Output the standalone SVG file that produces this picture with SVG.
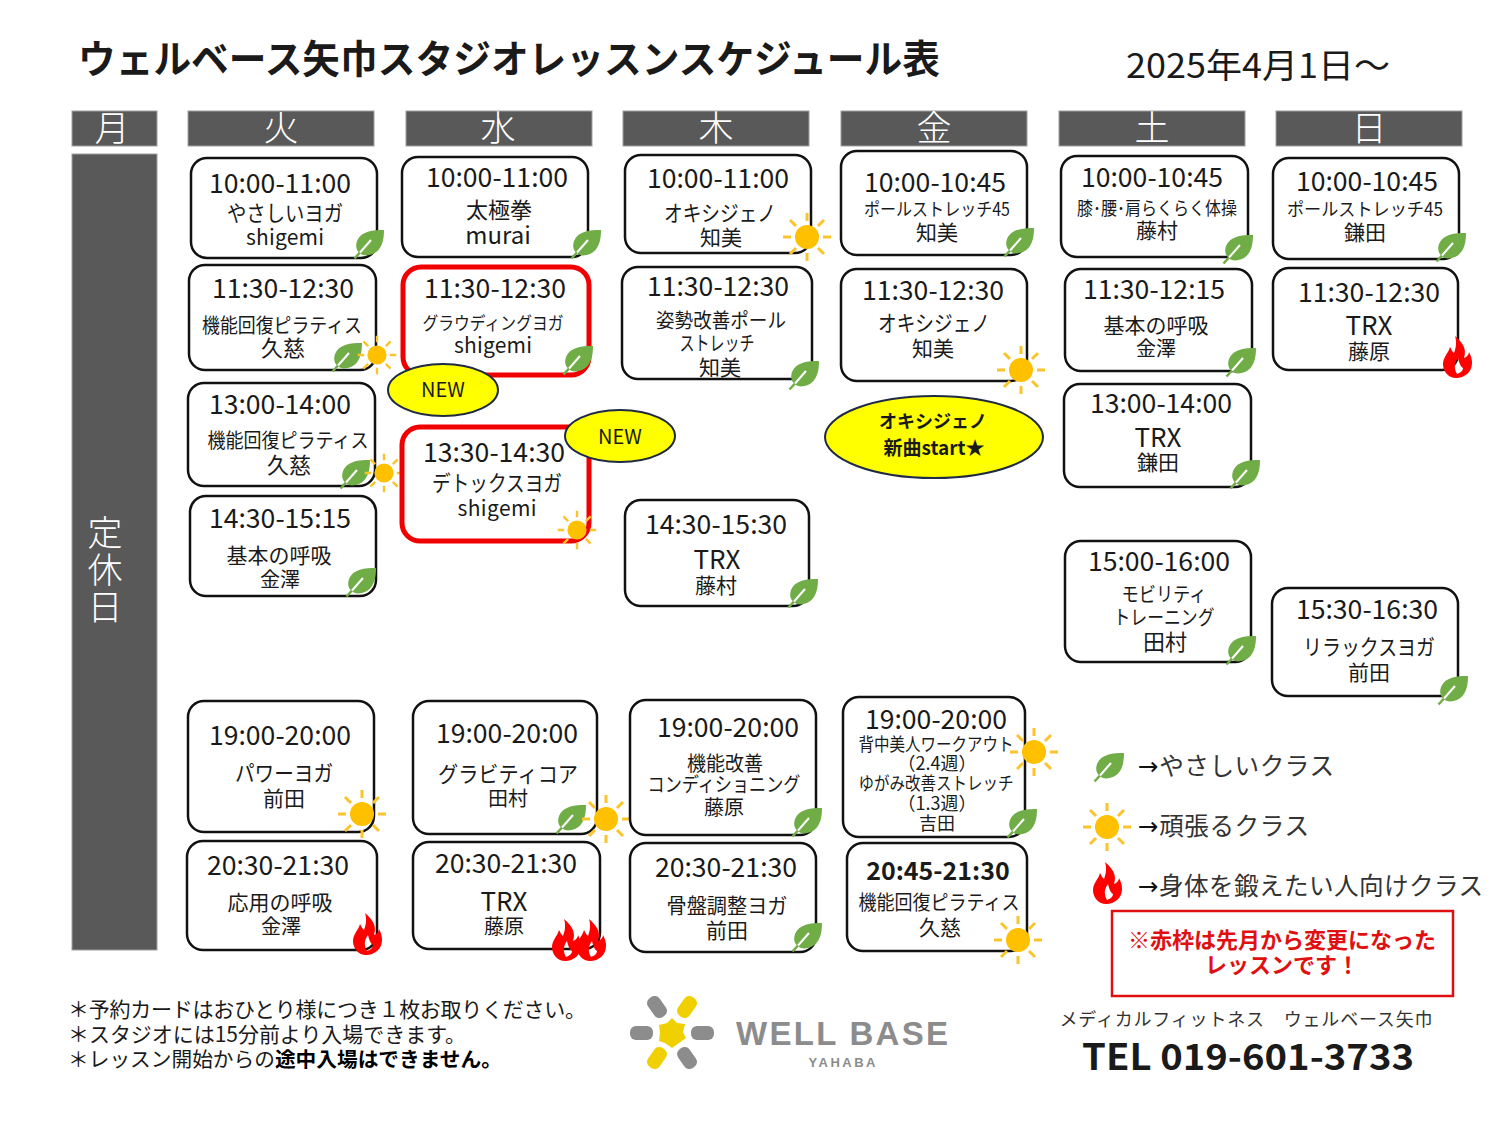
<svg xmlns="http://www.w3.org/2000/svg" width="1500" height="1125" viewBox="0 0 1500 1125">
<style>
text{font-family:"Noto Sans CJK JP","Noto Sans",sans-serif;fill:#1a1a1a;text-anchor:middle}
.card{fill:#fff;stroke:#111;stroke-width:2.5}
.red{fill:#fff;stroke:#f00000;stroke-width:5}
.hd{fill:#595959;stroke:#a0a0a0;stroke-width:1}
.hdt{fill:#fff;font-size:35px;font-weight:300}
.t{font-size:26.6px}
.a{font-size:22px}.b{font-size:21px}.c{font-size:20px}.d{font-size:18px}.x{font-size:24px}.trx{font-size:26px}
.bub{fill:#ffff00;stroke:#1f2a44;stroke-width:2}
.lg{font-size:24.6px;text-anchor:start;fill:#333}
.ar{font-family:"DejaVu Sans",sans-serif;fill:#111}
.nt{font-size:21px;text-anchor:start}
.rt{font-size:22px;font-weight:700;fill:#e01010}
</style>
<defs>
<g id="leaf"><path d="M15,-14C4,-14-8,-13-12,-3C-14,3-12,7-9,9C-7,12-1,12 4,10C13,6 15,-4 15,-14Z" fill="#70ad47"/><path d="M-14.5,14.5L-9,8.500" stroke="#70ad47" stroke-width="2.500" fill="none"/><path d="M-9,8.500L2,-4" stroke="#fff" stroke-width="2" fill="none"/></g>
<g id="sun"><circle r="12" fill="#ffc000"/><path d="M16,0H24M-16,0H-24M0,16V24M0,-16V-24M11,11L17,17M-11,11L-17,17M11,-11L17,-17M-11,-11L-17,-17" stroke="#fcc42c" stroke-width="3" fill="none"/></g>
<g id="sunS"><use href="#sun" transform="scale(.8)"/></g>
<g id="flame"><path fill-rule="evenodd" d="M-2,-21C6,-14 10,-8 7,1C10,0 12,-3 12,-5C16,2 16,10 12,15C8,20 2,21-1,21C-8,21-14,15-14,7C-14,0-9,-3-7,-10C-5,-6-4,-5-3,-4C-1,-9 0,-15-2,-21ZM1,1C-3,6-3,12 0,17C3,16 6,14 6,11C4,10 2,6 1,1Z" fill="#ff0000"/></g>
</defs>
<rect width="1500" height="1125" fill="#fff"/>
<g id="title"><text x="509" y="73" font-size="39" font-weight="700" textLength="862" lengthAdjust="spacingAndGlyphs" fill="#111">ウェルベース矢巾スタジオレッスンスケジュール表</text>
<text x="1258" y="78" font-size="34" textLength="264" lengthAdjust="spacingAndGlyphs">2025年4月1日～</text></g>
<g id="headers">
<rect class="hd" x="72" y="111" width="85" height="35"/><text class="hdt" x="112" y="141">月</text>
<rect class="hd" x="188" y="111" width="186" height="35"/><text class="hdt" x="281" y="141">火</text>
<rect class="hd" x="406" y="111" width="186" height="35"/><text class="hdt" x="498" y="141">水</text>
<rect class="hd" x="623" y="111" width="186" height="35"/><text class="hdt" x="716" y="141">木</text>
<rect class="hd" x="841" y="111" width="186" height="35"/><text class="hdt" x="934" y="141">金</text>
<rect class="hd" x="1059" y="111" width="186" height="35"/><text class="hdt" x="1152" y="141">土</text>
<rect class="hd" x="1276" y="111" width="186" height="35"/><text class="hdt" x="1369" y="141">日</text>
<rect class="hd" x="72" y="154" width="85" height="796"/>
<text class="hdt" x="105" y="546">定</text><text class="hdt" x="105" y="583">休</text><text class="hdt" x="105" y="620">日</text>
</g>
<g id="tue1"><rect class="card" x="191" y="158" width="186" height="100" rx="16"/><text class="t" x="280" y="193">10:00-11:00</text><text class="a" x="285" y="221" textLength="116" lengthAdjust="spacingAndGlyphs">やさしいヨガ</text><text class="b" x="285" y="245" textLength="78">shigemi</text><use href="#leaf" x="369" y="244"/></g>
<g id="tue2"><rect class="card" x="189" y="265" width="187" height="105" rx="16"/><text class="t" x="283" y="298">11:30-12:30</text><text class="c" x="282" y="333" textLength="160" lengthAdjust="spacingAndGlyphs">機能回復ピラティス</text><text class="a" x="283" y="356">久慈</text><use href="#leaf" x="347" y="357"/><use href="#sunS" x="377" y="355"/></g>
<g id="tue3"><rect class="card" x="188" y="383" width="187" height="103" rx="16"/><text class="t" x="280" y="414">13:00-14:00</text><text class="c" x="288" y="448" textLength="161" lengthAdjust="spacingAndGlyphs">機能回復ピラティス</text><text class="a" x="289" y="473">久慈</text><use href="#leaf" x="355" y="474"/><use href="#sunS" x="384" y="473"/></g>
<g id="tue4"><rect class="card" x="190" y="496" width="186" height="100" rx="16"/><text class="t" x="280" y="528">14:30-15:15</text><text class="b" x="279" y="563">基本の呼吸</text><text class="c" x="280" y="587">金澤</text><use href="#leaf" x="361" y="582"/></g>
<g id="tue5"><rect class="card" x="188" y="701" width="186" height="131" rx="16"/><text class="t" x="280" y="745">19:00-20:00</text><text class="a" x="284" y="781" textLength="98" lengthAdjust="spacingAndGlyphs">パワーヨガ</text><text class="b" x="284" y="806">前田</text><use href="#sun" x="362" y="814"/></g>
<g id="tue6"><rect class="card" x="187" y="841" width="190" height="109" rx="16"/><text class="t" x="278" y="875">20:30-21:30</text><text class="b" x="280" y="910">応用の呼吸</text><text class="c" x="281" y="934">金澤</text><use href="#flame" x="367" y="934"/></g>

<g id="wed1"><rect class="card" x="402" y="157" width="186" height="100" rx="16"/><text class="t" x="497" y="187">10:00-11:00</text><text class="a" x="499" y="218">太極拳</text><text class="x" x="498" y="244">murai</text><use href="#leaf" x="586" y="244"/></g>
<g id="wed2"><rect class="red" x="403" y="267" width="186" height="108" rx="18"/><text class="t" x="495" y="298">11:30-12:30</text><text class="d" x="493" y="330" textLength="141" lengthAdjust="spacingAndGlyphs">グラウディングヨガ</text><text class="b" x="493" y="353" textLength="78">shigemi</text><use href="#leaf" x="578" y="360"/></g>
<g id="new1"><ellipse class="bub" cx="443" cy="390" rx="55" ry="26"/><text class="c" x="443" y="397">NEW</text></g>
<g id="wed3"><rect class="red" x="402" y="427" width="187" height="114" rx="18"/><text class="t" x="494" y="462">13:30-14:30</text><text class="a" x="497" y="491" textLength="130" lengthAdjust="spacingAndGlyphs">デトックスヨガ</text><text class="b" x="497" y="516" textLength="79">shigemi</text><use href="#sunS" x="577" y="530"/></g>
<g id="new2"><ellipse class="bub" cx="620" cy="436" rx="55" ry="26"/><text class="c" x="620" y="444">NEW</text></g>
<g id="wed5"><rect class="card" x="413" y="701" width="184" height="133" rx="16"/><text class="t" x="507" y="743">19:00-20:00</text><text class="a" x="508" y="782" textLength="140" lengthAdjust="spacingAndGlyphs">グラビティコア</text><text class="c" x="508" y="806">田村</text><use href="#leaf" x="571" y="819"/><use href="#sun" x="606" y="819"/></g>
<g id="wed6"><rect class="card" x="413" y="842" width="187" height="107" rx="16"/><text class="t" x="506" y="873">20:30-21:30</text><text class="trx" x="504" y="911">TRX</text><text class="c" x="504" y="934">藤原</text><use href="#flame" x="566" y="940"/><use href="#flame" x="591" y="940"/></g>

<g id="thu1"><rect class="card" x="625" y="155" width="186" height="98" rx="16"/><text class="t" x="718" y="188">10:00-11:00</text><text class="a" x="720" y="221" textLength="112" lengthAdjust="spacingAndGlyphs">オキシジェノ</text><text class="b" x="721" y="245">知美</text><use href="#sun" x="807" y="237"/></g>
<g id="thu2"><rect class="card" x="622" y="267" width="190" height="112" rx="16"/><text class="t" x="718" y="296">11:30-12:30</text><text class="c" x="721" y="328" textLength="130" lengthAdjust="spacingAndGlyphs">姿勢改善ポール</text><text class="c" x="717" y="351" textLength="75" lengthAdjust="spacingAndGlyphs">ストレッチ</text><text class="b" x="720" y="375">知美</text><use href="#leaf" x="804" y="375"/></g>
<g id="thu3"><rect class="card" x="625" y="500" width="184" height="106" rx="16"/><text class="t" x="716" y="534">14:30-15:30</text><text class="trx" x="717" y="569">TRX</text><text class="b" x="716" y="593">藤村</text><use href="#leaf" x="803" y="593"/></g>
<g id="thu4"><rect class="card" x="630" y="700" width="186" height="135" rx="16"/><text class="t" x="728" y="737">19:00-20:00</text><text class="c" x="725" y="771" textLength="76" lengthAdjust="spacingAndGlyphs">機能改善</text><text class="c" x="724" y="792" textLength="153" lengthAdjust="spacingAndGlyphs">コンディショニング</text><text class="c" x="724" y="815">藤原</text><use href="#leaf" x="807" y="822"/></g>
<g id="thu5"><rect class="card" x="630" y="843" width="186" height="109" rx="16"/><text class="t" x="726" y="877">20:30-21:30</text><text class="b" x="727" y="913" textLength="121" lengthAdjust="spacingAndGlyphs">骨盤調整ヨガ</text><text class="b" x="727" y="938">前田</text><use href="#leaf" x="807" y="937"/></g>

<g id="fri1"><rect class="card" x="841" y="151" width="186" height="104" rx="16"/><text class="t" x="935" y="192">10:00-10:45</text><text class="d" x="937" y="216" textLength="146" lengthAdjust="spacingAndGlyphs">ポールストレッチ45</text><text class="b" x="937" y="240">知美</text><use href="#leaf" x="1019" y="242"/></g>
<g id="fri2"><rect class="card" x="841" y="269" width="186" height="112" rx="16"/><text class="t" x="933" y="300">11:30-12:30</text><text class="a" x="934" y="331" textLength="112" lengthAdjust="spacingAndGlyphs">オキシジェノ</text><text class="b" x="933" y="356">知美</text><use href="#sun" x="1021" y="370"/></g>
<g id="oxy"><ellipse class="bub" cx="934" cy="437" rx="109" ry="41"/><text class="d" font-weight="700" x="933" y="428">オキシジェノ</text><text font-size="19" font-weight="700" x="934" y="455">新曲start★</text></g>
<g id="fri3"><rect class="card" x="843" y="697" width="182" height="140" rx="16"/><text class="t" x="936" y="729">19:00-20:00</text><text class="d" x="936" y="751" textLength="155" lengthAdjust="spacingAndGlyphs">背中美人ワークアウト</text><text class="d" x="937" y="770">（2.4週）</text><text class="d" x="936" y="790" textLength="155" lengthAdjust="spacingAndGlyphs">ゆがみ改善ストレッチ</text><text class="d" x="937" y="810">（1.3週）</text><text class="d" x="937" y="830">吉田</text><use href="#sun" x="1034" y="752"/><use href="#leaf" x="1022" y="823"/></g>
<g id="fri4"><rect class="card" x="847" y="843" width="180" height="108" rx="16"/><text font-size="25" font-weight="700" x="938" y="880">20:45-21:30</text><text class="c" x="939" y="910" textLength="161" lengthAdjust="spacingAndGlyphs">機能回復ピラティス</text><text class="b" x="940" y="935">久慈</text><use href="#sun" x="1018" y="940"/></g>

<g id="sat1"><rect class="card" x="1061" y="156" width="187" height="101" rx="16"/><text class="t" x="1152" y="187">10:00-10:45</text><text class="d" x="1157" y="215" textLength="160" lengthAdjust="spacingAndGlyphs">膝･腰･肩らくらく体操</text><text class="b" x="1157" y="238">藤村</text><use href="#leaf" x="1238" y="249"/></g>
<g id="sat2"><rect class="card" x="1065" y="269" width="187" height="102" rx="16"/><text class="t" x="1154" y="299">11:30-12:15</text><text class="b" x="1156" y="333">基本の呼吸</text><text class="c" x="1156" y="356">金澤</text><use href="#leaf" x="1241" y="362"/></g>
<g id="sat3"><rect class="card" x="1064" y="384" width="187" height="103" rx="16"/><text class="t" x="1161" y="413">13:00-14:00</text><text class="trx" x="1158" y="447">TRX</text><text class="b" x="1158" y="470">鎌田</text><use href="#leaf" x="1245" y="474"/></g>
<g id="sat4"><rect class="card" x="1065" y="541" width="186" height="121" rx="16"/><text class="t" x="1159" y="571">15:00-16:00</text><text class="c" x="1164" y="602" textLength="85" lengthAdjust="spacingAndGlyphs">モビリティ</text><text class="c" x="1164" y="625" textLength="101" lengthAdjust="spacingAndGlyphs">トレーニング</text><text class="a" x="1165" y="650">田村</text><use href="#leaf" x="1241" y="650"/></g>

<g id="sun1"><rect class="card" x="1273" y="158" width="186" height="101" rx="16"/><text class="t" x="1367" y="191">10:00-10:45</text><text class="d" x="1365" y="216" textLength="156" lengthAdjust="spacingAndGlyphs">ポールストレッチ45</text><text class="b" x="1365" y="240">鎌田</text><use href="#leaf" x="1451" y="247"/></g>
<g id="sun2"><rect class="card" x="1273" y="268" width="185" height="102" rx="16"/><text class="t" x="1369" y="302">11:30-12:30</text><text class="trx" x="1369" y="335">TRX</text><text class="b" x="1369" y="359">藤原</text><use href="#flame" x="1457" y="357"/></g>
<g id="sun3"><rect class="card" x="1272" y="588" width="186" height="108" rx="16"/><text class="t" x="1367" y="619">15:30-16:30</text><text class="a" x="1369" y="655" textLength="132" lengthAdjust="spacingAndGlyphs">リラックスヨガ</text><text class="b" x="1369" y="680">前田</text><use href="#leaf" x="1453" y="690"/></g>

<g id="legend"><use href="#leaf" x="1109" y="767"/><text class="lg" x="1138" y="775" textLength="196"><tspan class="ar">→</tspan>やさしいクラス</text>
<use href="#sun" x="1107" y="827"/><text class="lg" x="1138" y="835" textLength="171"><tspan class="ar">→</tspan>頑張るクラス</text>
<use href="#flame" x="1107" y="883"/><text class="lg" x="1138" y="895" textLength="345"><tspan class="ar">→</tspan>身体を鍛えたい人向けクラス</text></g>
<g id="notice"><rect x="1112" y="911" width="341" height="85" fill="#fff" stroke="#e01010" stroke-width="2.500"/><text class="rt" x="1282" y="948">※赤枠は先月から変更になった</text><text class="rt" x="1282" y="973">レッスンです！</text></g>
<g id="notes"><text class="nt" x="68" y="1017" textLength="518">＊予約カードはおひとり様につき１枚お取りください。</text>
<text class="nt" x="68" y="1042" textLength="398">＊スタジオには15分前より入場できます。</text>
<text class="nt" x="68" y="1067" style="font-size:20.7px">＊レッスン開始からの<tspan font-weight="700" fill="#000">途中入場はできません。</tspan></text></g>
<g id="logo">
<g fill="#8c8c8c"><rect x="630" y="1026" width="23" height="14" rx="6"/><rect x="691" y="1026" width="23" height="14" rx="6"/><rect x="-11.500" y="-7" width="23" height="14" rx="6" transform="translate(657 1007) rotate(55)"/><rect x="-11.500" y="-7" width="23" height="14" rx="6" transform="translate(687 1058) rotate(55)"/></g>
<g fill="#f0d000"><rect x="-11.500" y="-7" width="23" height="14" rx="6" transform="translate(687 1007) rotate(-55)"/><rect x="-11.500" y="-7" width="23" height="14" rx="6" transform="translate(657 1058) rotate(-55)"/><polygon points="672,1018 677,1023 685,1024 683,1032 686,1038 679,1043 672,1048 665,1043 659,1041 660,1033 659,1025 667,1023"/></g>
<text x="842" y="1045" font-size="33" font-weight="700" textLength="212" style="font-family:'Liberation Sans',sans-serif;fill:#8c8c8c">WELL BASE</text>
<text x="842" y="1067" font-size="13" font-weight="700" textLength="67" style="font-family:'Liberation Sans',sans-serif;fill:#8c8c8c">YAHABA</text>
</g>
<g id="contact"><text x="1246" y="1026" font-size="18" textLength="373" style="fill:#333">メディカルフィットネス　ウェルベース矢巾</text>
<text x="1248" y="1070" font-size="36" font-weight="700" textLength="332" lengthAdjust="spacingAndGlyphs">TEL 019-601-3733</text></g>
</svg>
